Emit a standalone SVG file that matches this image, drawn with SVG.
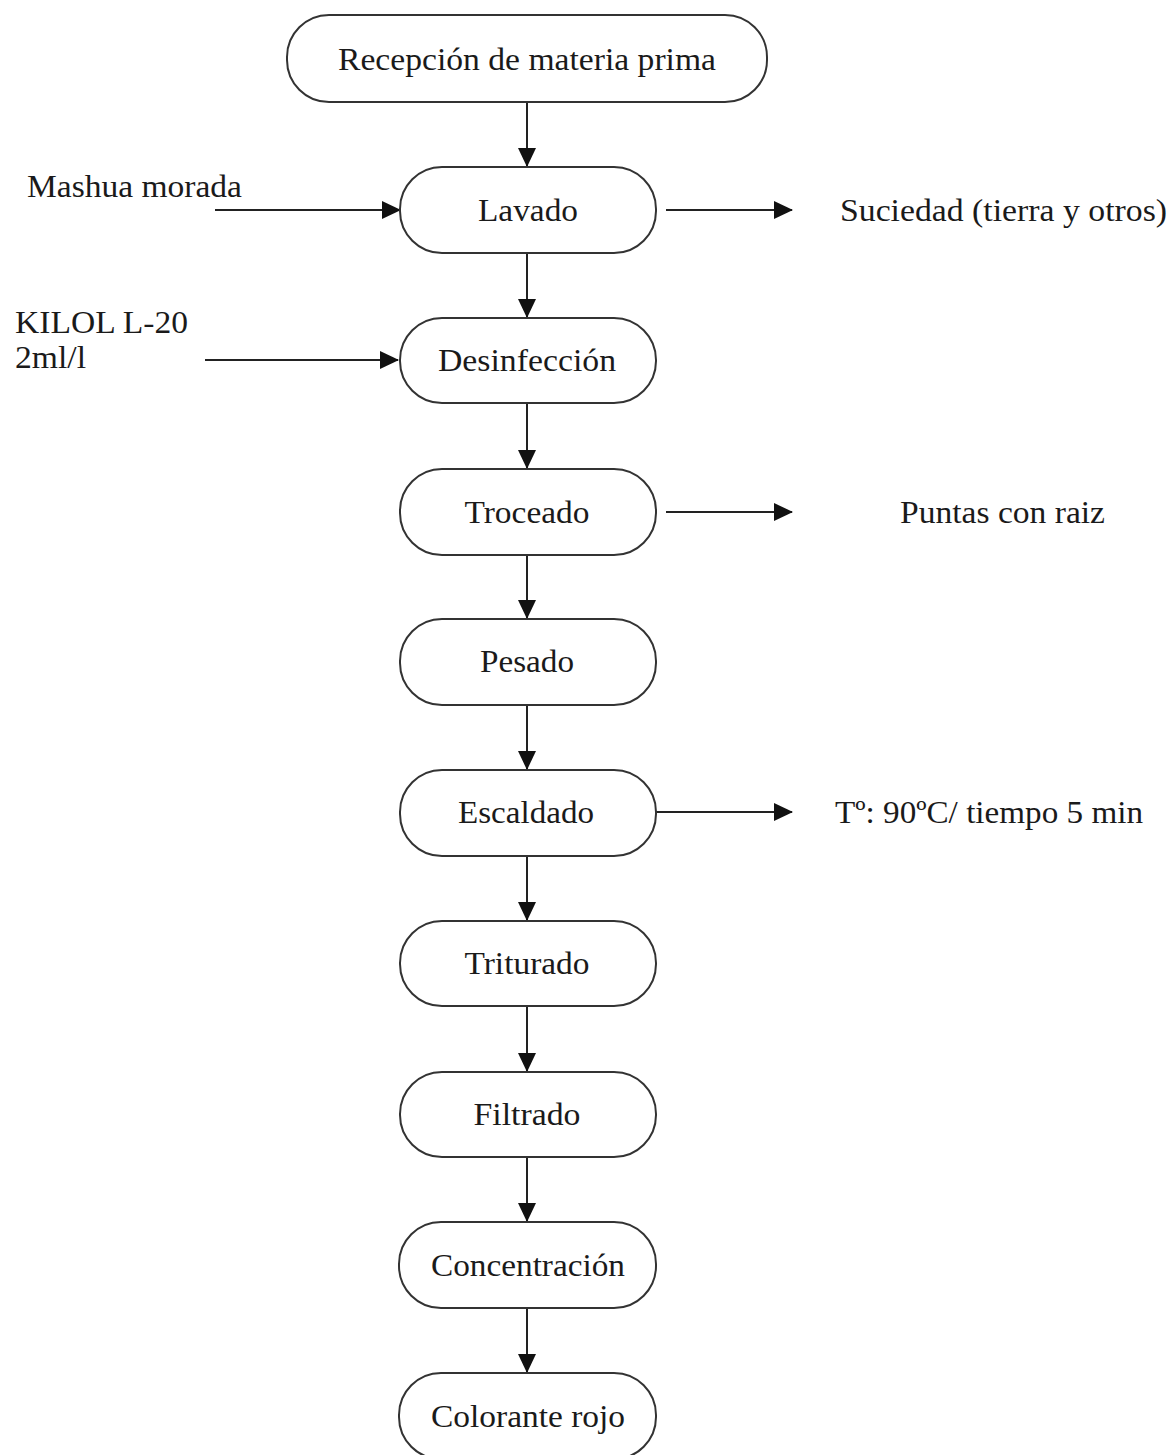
<svg xmlns="http://www.w3.org/2000/svg" width="1171" height="1455" viewBox="0 0 1171 1455">
<style>
.box{fill:#fff;stroke:#333;stroke-width:2}
.t{font-family:"Liberation Serif","Times New Roman",serif;font-size:32px;fill:#1a1a1a}
.c{text-anchor:middle}
.ln{stroke:#222;stroke-width:2;fill:none}
</style>
<defs>
<marker id="ah" markerUnits="userSpaceOnUse" markerWidth="20" markerHeight="18" refX="18" refY="9" orient="auto">
<path d="M0,0 L19,9 L0,18 Z" fill="#111"/>
</marker>
</defs>
<rect width="1171" height="1455" fill="#fff"/>
<g id="connectors">
<line class="ln" x1="527" y1="102" x2="527" y2="166" marker-end="url(#ah)"/>
<line class="ln" x1="527" y1="253" x2="527" y2="317" marker-end="url(#ah)"/>
<line class="ln" x1="527" y1="403" x2="527" y2="468" marker-end="url(#ah)"/>
<line class="ln" x1="527" y1="555" x2="527" y2="618" marker-end="url(#ah)"/>
<line class="ln" x1="527" y1="705" x2="527" y2="769" marker-end="url(#ah)"/>
<line class="ln" x1="527" y1="856" x2="527" y2="920" marker-end="url(#ah)"/>
<line class="ln" x1="527" y1="1006" x2="527" y2="1071" marker-end="url(#ah)"/>
<line class="ln" x1="527" y1="1157" x2="527" y2="1221" marker-end="url(#ah)"/>
<line class="ln" x1="527" y1="1308" x2="527" y2="1372" marker-end="url(#ah)"/>
<line class="ln" x1="215" y1="210" x2="400" y2="210" marker-end="url(#ah)"/>
<line class="ln" x1="205" y1="360" x2="398" y2="360" marker-end="url(#ah)"/>
<line class="ln" x1="666" y1="210" x2="792" y2="210" marker-end="url(#ah)"/>
<line class="ln" x1="666" y1="512" x2="792" y2="512" marker-end="url(#ah)"/>
<line class="ln" x1="656" y1="812" x2="792" y2="812" marker-end="url(#ah)"/>
</g>
<g id="n-recepcion"><rect class="box" x="287" y="15" width="480" height="87" rx="42"/><text class="t c" x="527" y="70" textLength="378" lengthAdjust="spacingAndGlyphs">Recepción de materia prima</text></g>
<g id="n-lavado"><rect class="box" x="400" y="167" width="256" height="86" rx="42"/><text class="t c" x="528" y="221" textLength="100" lengthAdjust="spacingAndGlyphs">Lavado</text></g>
<g id="n-desinfeccion"><rect class="box" x="400" y="318" width="256" height="85" rx="42"/><text class="t c" x="527" y="371" textLength="178" lengthAdjust="spacingAndGlyphs">Desinfección</text></g>
<g id="n-troceado"><rect class="box" x="400" y="469" width="256" height="86" rx="42"/><text class="t c" x="527" y="523" textLength="125" lengthAdjust="spacingAndGlyphs">Troceado</text></g>
<g id="n-pesado"><rect class="box" x="400" y="619" width="256" height="86" rx="42"/><text class="t c" x="527" y="672" textLength="94" lengthAdjust="spacingAndGlyphs">Pesado</text></g>
<g id="n-escaldado"><rect class="box" x="400" y="770" width="256" height="86" rx="42"/><text class="t c" x="526" y="823" textLength="136" lengthAdjust="spacingAndGlyphs">Escaldado</text></g>
<g id="n-triturado"><rect class="box" x="400" y="921" width="256" height="85" rx="42"/><text class="t c" x="527" y="974" textLength="125" lengthAdjust="spacingAndGlyphs">Triturado</text></g>
<g id="n-filtrado"><rect class="box" x="400" y="1072" width="256" height="85" rx="42"/><text class="t c" x="527" y="1125" textLength="107" lengthAdjust="spacingAndGlyphs">Filtrado</text></g>
<g id="n-concentracion"><rect class="box" x="399" y="1222" width="257" height="86" rx="42"/><text class="t c" x="528" y="1276" textLength="194" lengthAdjust="spacingAndGlyphs">Concentración</text></g>
<g id="n-colorante"><rect class="box" x="399" y="1373" width="257" height="86" rx="42"/><text class="t c" x="528" y="1427" textLength="194" lengthAdjust="spacingAndGlyphs">Colorante rojo</text></g>
<g id="labels">
<text class="t" x="27" y="197" textLength="215" lengthAdjust="spacingAndGlyphs">Mashua morada</text>
<text class="t" x="15" y="333" textLength="173" lengthAdjust="spacingAndGlyphs">KILOL L-20</text>
<text class="t" x="15" y="368" textLength="71" lengthAdjust="spacingAndGlyphs">2ml/l</text>
<text class="t" x="840" y="221" textLength="327" lengthAdjust="spacingAndGlyphs">Suciedad (tierra y otros)</text>
<text class="t" x="900" y="523" textLength="205" lengthAdjust="spacingAndGlyphs">Puntas con raiz</text>
<text class="t" x="835" y="823" textLength="308" lengthAdjust="spacingAndGlyphs">Tº: 90ºC/ tiempo 5 min</text>
</g>
</svg>
